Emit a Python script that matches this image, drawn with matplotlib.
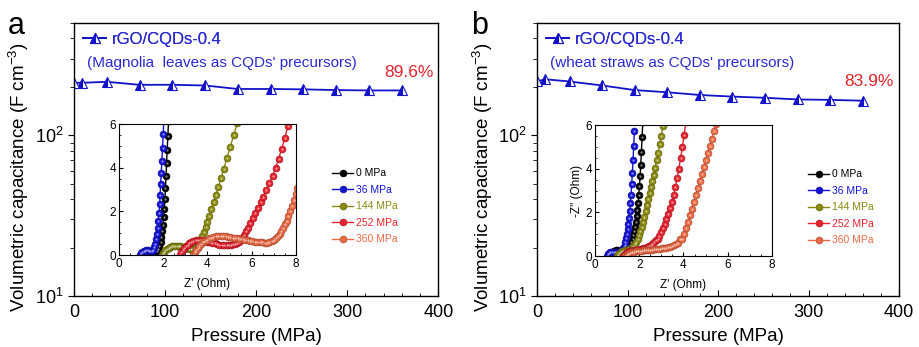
import matplotlib
matplotlib.use("Agg")
import matplotlib.pyplot as plt
import matplotlib.ticker as mticker

plt.rcParams.update({
    "font.family": ["Liberation Sans", "DejaVu Sans"],
    "mathtext.default": "regular",
    "axes.linewidth": 1.0,
})

# ---------------------------------------------------------------------------
# Data
# ---------------------------------------------------------------------------

pressure = [0, 9, 36, 72, 108, 144, 180, 216, 252, 288, 324, 360]
cap_magnolia = [212, 212, 215, 206, 206, 204, 194, 194, 193, 191, 190, 190]
cap_wheat = [216, 223, 216, 204, 191, 185, 178, 174, 171, 167, 166, 164]

series_label = "rGO/CQDs-0.4"
note_a = "(Magnolia  leaves as CQDs' precursors)"
note_b = "(wheat straws as CQDs' precursors)"
retention_a = "89.6%"
retention_b = "83.9%"

eis_labels = ["0 MPa", "36 MPa", "144 MPa", "252 MPa", "360 MPa"]
eis_colors = ["#000000", "#1414d8", "#8a8a10", "#e8222e", "#ee6a45"]

# panel a, Nyquist curves
a0_zr = [1.25, 1.30, 1.36, 1.42, 1.48, 1.54, 1.60, 1.66, 1.72, 1.78, 1.83, 1.88, 1.92,
         1.96, 1.99, 2.02, 2.05, 2.08, 2.10, 2.13, 2.15, 2.18, 2.21, 2.24]
a0_zi = [0.00, 0.08, 0.14, 0.18, 0.20, 0.20, 0.19, 0.18, 0.20, 0.28, 0.42, 0.60, 0.82,
         1.08, 1.38, 1.72, 2.12, 2.58, 3.08, 3.62, 4.20, 4.82, 5.46, 6.12]
a36_zr = [0.95, 1.00, 1.06, 1.12, 1.18, 1.24, 1.30, 1.36, 1.42, 1.48, 1.54, 1.59, 1.64,
          1.68, 1.72, 1.75, 1.78, 1.81, 1.84, 1.86, 1.88, 1.91, 1.94, 1.97, 2.00, 2.03]
a36_zi = [0.00, 0.08, 0.14, 0.18, 0.20, 0.21, 0.21, 0.20, 0.19, 0.19, 0.24, 0.36, 0.52,
          0.72, 0.96, 1.24, 1.56, 1.92, 2.32, 2.76, 3.24, 3.76, 4.32, 4.92, 5.56, 6.20]
a144_zr = [1.93, 1.98, 2.04, 2.10, 2.17, 2.24, 2.31, 2.38, 2.46, 2.54, 2.62, 2.70, 2.78,
           2.86, 2.94, 3.02, 3.10, 3.18, 3.26, 3.34, 3.42, 3.50, 3.57, 3.63, 3.70, 3.77,
           3.84, 3.92, 4.00, 4.09, 4.18, 4.28, 4.38, 4.49, 4.61, 4.74, 4.88, 5.03, 5.19, 5.35]
a144_zi = [0.00, 0.08, 0.15, 0.22, 0.28, 0.33, 0.37, 0.40, 0.42, 0.43, 0.43, 0.42, 0.40,
           0.38, 0.35, 0.32, 0.30, 0.28, 0.27, 0.28, 0.31, 0.36, 0.43, 0.50, 0.66, 0.85,
           1.05, 1.28, 1.52, 1.80, 2.10, 2.42, 2.76, 3.12, 3.52, 3.96, 4.44, 4.96, 5.50, 6.06]
a252_zr = [2.76, 2.82, 2.88, 2.95, 3.02, 3.10, 3.18, 3.27, 3.36, 3.46, 3.56, 3.66, 3.77,
           3.88, 3.99, 4.10, 4.21, 4.32, 4.43, 4.54, 4.65, 4.76, 4.87, 4.97, 5.07, 5.16,
           5.25, 5.33, 5.42, 5.50, 5.58, 5.66, 5.75, 5.84, 5.94, 6.05, 6.16, 6.28, 6.40,
           6.53, 6.66, 6.80, 6.94, 7.08, 7.22, 7.36, 7.50, 7.64, 7.78]
a252_zi = [0.00, 0.12, 0.22, 0.32, 0.40, 0.48, 0.55, 0.60, 0.64, 0.67, 0.68, 0.68, 0.67,
           0.65, 0.62, 0.59, 0.56, 0.53, 0.50, 0.48, 0.46, 0.45, 0.45, 0.46, 0.47, 0.49,
           0.52, 0.55, 0.62, 0.70, 0.80, 0.92, 1.08, 1.26, 1.46, 1.68, 1.91, 2.16, 2.41,
           2.68, 2.96, 3.28, 3.62, 4.00, 4.42, 4.88, 5.38, 5.92, 6.50]
a360_zr = [3.36, 3.42, 3.48, 3.55, 3.62, 3.70, 3.78, 3.87, 3.96, 4.06, 4.16, 4.27, 4.38,
           4.49, 4.60, 4.71, 4.82, 4.93, 5.04, 5.15, 5.26, 5.37, 5.48, 5.59, 5.70, 5.81,
           5.92, 6.03, 6.14, 6.25, 6.36, 6.47, 6.58, 6.68, 6.80, 6.92, 7.02, 7.10, 7.18,
           7.26, 7.34, 7.42, 7.50, 7.58, 7.66, 7.74, 7.82, 7.90, 7.98, 8.06]
a360_zi = [0.00, 0.12, 0.22, 0.32, 0.41, 0.50, 0.58, 0.65, 0.71, 0.76, 0.80, 0.83, 0.85,
           0.86, 0.86, 0.86, 0.85, 0.84, 0.82, 0.80, 0.78, 0.76, 0.74, 0.72, 0.70, 0.68,
           0.66, 0.64, 0.62, 0.60, 0.59, 0.58, 0.57, 0.57, 0.60, 0.65, 0.71, 0.79, 0.88,
           0.98, 1.10, 1.24, 1.40, 1.58, 1.78, 2.00, 2.24, 2.50, 2.78, 3.06]

# panel b, Nyquist curves
b0_zr = [0.60, 0.66, 0.72, 0.79, 0.86, 0.93, 1.00, 1.07, 1.14, 1.21, 1.28, 1.35, 1.42,
         1.48, 1.54, 1.60, 1.65, 1.70, 1.74, 1.78, 1.82, 1.86, 1.89, 1.92, 1.95, 1.98,
         2.01, 2.04, 2.07, 2.10, 2.13, 2.16]
b0_zi = [0.00, 0.09, 0.16, 0.21, 0.24, 0.26, 0.26, 0.25, 0.24, 0.23, 0.23, 0.25, 0.29,
         0.35, 0.43, 0.53, 0.65, 0.79, 0.95, 1.13, 1.33, 1.56, 1.82, 2.11, 2.44, 2.80,
         3.20, 3.66, 4.18, 4.78, 5.46, 6.12]
b36_zr = [0.53, 0.58, 0.64, 0.70, 0.77, 0.84, 0.91, 0.98, 1.05, 1.12, 1.18, 1.24, 1.29,
          1.34, 1.38, 1.42, 1.45, 1.48, 1.51, 1.54, 1.57, 1.60, 1.63, 1.66, 1.69, 1.72,
          1.75, 1.78]
b36_zi = [0.00, 0.08, 0.14, 0.18, 0.20, 0.21, 0.21, 0.20, 0.19, 0.20, 0.24, 0.31, 0.40,
          0.52, 0.66, 0.82, 1.00, 1.22, 1.46, 1.74, 2.06, 2.42, 2.82, 3.28, 3.80, 4.38,
          5.02, 5.72]
b144_zr = [0.98, 1.04, 1.10, 1.17, 1.24, 1.31, 1.38, 1.45, 1.52, 1.59, 1.66, 1.73, 1.80,
           1.87, 1.93, 1.99, 2.05, 2.11, 2.17, 2.23, 2.29, 2.35, 2.41, 2.47, 2.53, 2.59,
           2.65, 2.72, 2.79, 2.86, 2.93, 3.00, 3.07]
b144_zi = [0.00, 0.07, 0.13, 0.18, 0.22, 0.25, 0.27, 0.29, 0.31, 0.34, 0.38, 0.44, 0.54,
           0.66, 0.80, 0.96, 1.14, 1.34, 1.56, 1.80, 2.05, 2.32, 2.60, 2.88, 3.16, 3.44,
           3.72, 4.04, 4.38, 4.74, 5.12, 5.52, 5.94]
b252_zr = [1.27, 1.33, 1.40, 1.47, 1.55, 1.63, 1.71, 1.79, 1.87, 1.95, 2.03, 2.11, 2.19,
           2.27, 2.35, 2.43, 2.51, 2.59, 2.67, 2.75, 2.83, 2.91, 2.99, 3.07, 3.15, 3.23,
           3.31, 3.39, 3.47, 3.55, 3.63, 3.71, 3.79, 3.87, 3.95, 4.03, 4.11]
b252_zi = [0.00, 0.07, 0.13, 0.18, 0.22, 0.25, 0.27, 0.28, 0.29, 0.30, 0.31, 0.33, 0.35,
           0.38, 0.41, 0.45, 0.50, 0.56, 0.63, 0.72, 0.80, 0.94, 1.10, 1.28, 1.48, 1.70,
           1.94, 2.20, 2.48, 2.80, 3.16, 3.56, 4.00, 4.48, 5.00, 5.56, 6.14]
b360_zr = [1.36, 1.43, 1.51, 1.59, 1.68, 1.77, 1.86, 1.95, 2.04, 2.13, 2.22, 2.31, 2.40,
           2.49, 2.58, 2.67, 2.76, 2.85, 2.94, 3.03, 3.12, 3.21, 3.30, 3.39, 3.48, 3.57,
           3.66, 3.75, 3.84, 3.93, 4.02, 4.11, 4.20, 4.29, 4.38, 4.47, 4.56, 4.65, 4.74,
           4.83, 4.92, 5.01, 5.10, 5.19, 5.28, 5.37, 5.46]
b360_zi = [0.00, 0.06, 0.11, 0.15, 0.18, 0.20, 0.22, 0.23, 0.24, 0.25, 0.26, 0.27, 0.28,
           0.29, 0.30, 0.31, 0.32, 0.33, 0.34, 0.35, 0.36, 0.38, 0.40, 0.42, 0.45, 0.49,
           0.55, 0.62, 0.76, 0.80, 1.02, 1.28, 1.56, 1.86, 2.17, 2.49, 2.81, 3.13, 3.45,
           3.77, 4.09, 4.41, 4.73, 5.05, 5.38, 5.72, 6.06]

eis_a = [(a0_zr, a0_zi), (a36_zr, a36_zi), (a144_zr, a144_zi),
         (a252_zr, a252_zi), (a360_zr, a360_zi)]
eis_b = [(b0_zr, b0_zi), (b36_zr, b36_zi), (b144_zr, b144_zi),
         (b252_zr, b252_zi), (b360_zr, b360_zi)]

C_LINE = "#1212c8"
C_TEXT = "#2a2ad0"
C_RED = "#e0232a"


def _shade(hex_color, f):
    """f < 1 darkens, f > 1 mixes toward white."""
    r, g, b = (int(hex_color[i:i + 2], 16) for i in (1, 3, 5))
    if f <= 1:
        return "#%02x%02x%02x" % (int(r * f), int(g * f), int(b * f))
    t = f - 1
    return "#%02x%02x%02x" % tuple(int(c + (255 - c) * t) for c in (r, g, b))


def draw_panel(fig, rect, inset_rect, letter, letter_x, cap, note, retention,
               ret_pos, eis, show_inset_ylabel):
    ax = fig.add_axes(rect)
    ax.plot(pressure, cap, color=C_LINE, linewidth=1.3, marker="^",
            markersize=6.8, fillstyle="left", markerfacecolor=C_LINE,
            markerfacecoloralt="white", markeredgecolor=C_LINE,
            markeredgewidth=0.8, label=series_label)
    ax.set_xlim(0, 400)
    ax.set_yscale("log")
    ax.set_ylim(10, 500)
    ax.xaxis.set_major_locator(mticker.MultipleLocator(100))
    ax.xaxis.set_minor_locator(mticker.MultipleLocator(20))
    ax.yaxis.set_major_locator(mticker.LogLocator(base=10))
    ax.yaxis.set_minor_locator(mticker.LogLocator(base=10, subs=range(2, 10)))
    ax.yaxis.set_minor_formatter(mticker.NullFormatter())
    ax.tick_params(axis="x", which="both", direction="in", labelsize=13, pad=6)
    ax.tick_params(axis="x", which="major", length=4)
    ax.tick_params(axis="x", which="minor", length=2)
    ax.tick_params(axis="y", which="both", direction="out", labelsize=13)
    ax.tick_params(axis="y", which="major", length=4)
    ax.tick_params(axis="y", which="minor", length=3)
    ax.set_xlabel("Pressure (MPa)", fontsize=13.5, labelpad=5)
    ax.set_ylabel("Volumetric capacitance (F cm$^{-3}$)", fontsize=13.5)
    ax.yaxis.set_label_coords(-0.117, 0.435)

    leg = ax.legend(loc="upper left", bbox_to_anchor=(0.025, 0.967),
                    frameon=False, fontsize=12, handlelength=1.4,
                    handletextpad=0.3, borderpad=0, borderaxespad=0,
                    labelcolor=C_TEXT)
    ax.add_artist(leg)
    ax.text(0.035, 0.852, note, transform=ax.transAxes, fontsize=11,
            color=C_TEXT, ha="left", va="center")
    ax.text(ret_pos[0], ret_pos[1], retention, transform=ax.transAxes,
            fontsize=12.5, color=C_RED, ha="right", va="center")
    fig.text(letter_x, 0.925, letter, fontsize=22, ha="left", va="center")

    ins = fig.add_axes(inset_rect)
    handles = []
    for (zr, zi), color, lab in zip(eis, eis_colors, eis_labels):
        h, = ins.plot(zr, zi, color=color, linewidth=1.0, marker="o",
                      markersize=5.0, markerfacecolor=color,
                      markeredgecolor=_shade(color, 0.65), markeredgewidth=0.4,
                      label=lab)
        # small highlight to give the balls a shaded look
        ins.plot(zr, zi, linestyle="none", marker="o", markersize=1.6,
                 markerfacecolor=_shade(color, 1.55), markeredgewidth=0)
        handles.append(h)
    ins.set_xlim(0, 8)
    ins.set_ylim(0, 6)
    ins.xaxis.set_major_locator(mticker.MultipleLocator(2))
    ins.xaxis.set_minor_locator(mticker.MultipleLocator(0.5))
    ins.yaxis.set_major_locator(mticker.MultipleLocator(2))
    ins.yaxis.set_minor_locator(mticker.MultipleLocator(0.5))
    ins.tick_params(which="both", direction="in", labelsize=8.5, pad=2)
    ins.tick_params(which="major", length=3)
    ins.tick_params(which="minor", length=1.5)
    for sp in ins.spines.values():
        sp.set_linewidth(0.8)
    ins.set_xlabel("Z' (Ohm)", fontsize=8.5, labelpad=6)
    if show_inset_ylabel:
        ins.set_ylabel("-Z'' (Ohm)", fontsize=8.5, labelpad=2)
    ins.legend(handles=handles, loc="upper left", bbox_to_anchor=(1.205, 0.662),
               frameon=False, fontsize=7.5, handlelength=2.0,
               handletextpad=0.25, labelspacing=0.62, borderpad=0,
               borderaxespad=0, labelcolor="linecolor")
    return ax


fig = plt.figure(figsize=(9.2, 3.47), dpi=100)

draw_panel(fig, [0.0804, 0.147, 0.396, 0.787], [0.1293, 0.265, 0.1924, 0.3775],
           "a", 0.008, cap_magnolia, note_a, retention_a, (0.988, 0.82),
           eis_a, False)
draw_panel(fig, [0.5837, 0.147, 0.3935, 0.787], [0.6467, 0.262, 0.1924, 0.3775],
           "b", 0.512, cap_wheat, note_b, retention_b, (0.985, 0.784),
           eis_b, True)

fig.savefig("out.png", dpi=100)
